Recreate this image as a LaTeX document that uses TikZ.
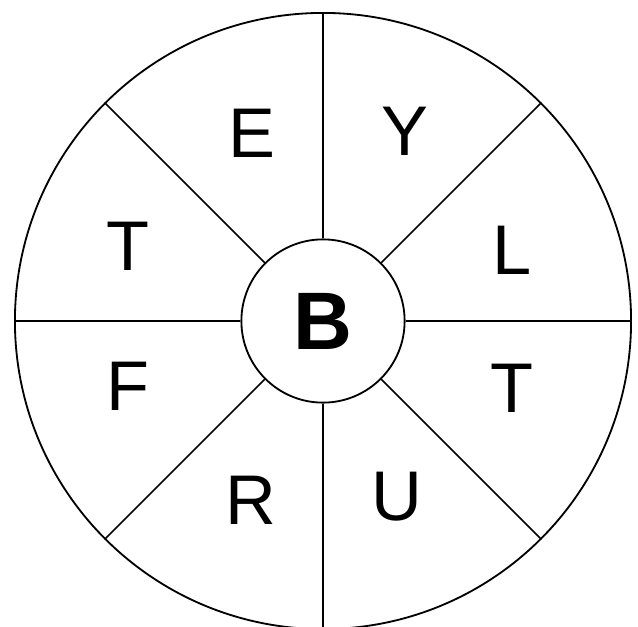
\documentclass[tikz,border=0pt]{standalone}
\usepackage{fontspec}
\setmainfont{Liberation Sans}
\tikzset{
    wheel/.style={circle, draw=black, line width=1.3pt, inner sep=0pt},
    letter/.style={font=\fontsize{50}{50}\selectfont, inner sep=0pt},
    spoke/.style={line width=1.2pt}
}
\begin{document}
\begin{tikzpicture}[x=0.025cm, y=-0.025cm]
    \useasboundingbox (0,0) rectangle (638,626);
    \node (outer) [wheel, minimum size=15.4cm] at (323,321) {};
    \node (hub) [wheel, minimum size=4.08cm, font=\fontsize{58}{58}\selectfont\bfseries] at (323,321) {B};

    \foreach \a in {0,45,...,315}
        \draw [spoke] (hub.\a) -- (outer.\a);

    \foreach \name/\px/\py/\txt in {e/252/133/E, y/405/131/Y, l/512/250/L, tr/512/388/T,
                                    u/397/497/U, r/251/500/R, f/128/386/F, tl/128/246/T}
        \node (\name) [letter] at (\px,\py) {\txt};
\end{tikzpicture}
\end{document}
